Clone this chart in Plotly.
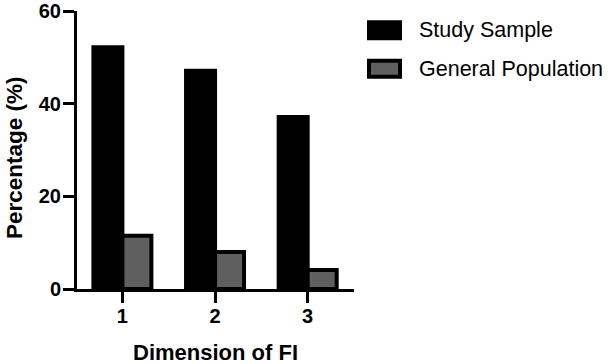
import plotly.graph_objects as go

categories = [1, 2, 3]
tick_labels = ["1", "2", "3"]
series_names = ["Study Sample", "General Population"]
study_sample = [52.2, 47.1, 37.1]
general_population = [11.5, 8.0, 4.1]
y_ticks = [0, 20, 40, 60]

W, H = 611, 364
L, R, T, B = 77, 257, 11, 75
pw = W - L - R
ph = H - T - B

def px(x):
    return (x - L) / pw

def py(y):
    return (H - B - y) / ph

FONT = "Liberation Sans, Arial, sans-serif"
LW = 4

fig = go.Figure()
fig.add_trace(go.Bar(x=categories, y=study_sample, name=series_names[0],
                     marker=dict(color="#000000", line=dict(color="#000000", width=LW))))
fig.add_trace(go.Bar(x=categories, y=general_population, name=series_names[1],
                     marker=dict(color="#5f5f5f", line=dict(color="#000000", width=LW))))

axis_common = dict(showgrid=False, zeroline=False, showline=True, linecolor="#000000",
                   linewidth=3, ticks="outside", ticklen=11, tickwidth=3, tickcolor="#000000",
                   automargin=False,
                   tickfont=dict(family=FONT, size=20, color="#000000", weight="bold"))

fig.update_layout(
    width=W, height=H, margin=dict(l=L, r=R, t=T, b=B, autoexpand=False),
    paper_bgcolor="white", plot_bgcolor="white",
    barmode="group", bargap=0.374, bargroupgap=0,
    showlegend=False,
    xaxis=dict(range=[0.51, 3.5], tickvals=categories, ticktext=tick_labels,
               ticklabelstandoff=-4, **axis_common),
    yaxis=dict(range=[0, 60], tickvals=y_ticks, ticklabelstandoff=-2, **axis_common),
)

# axis titles
fig.add_annotation(text="Dimension of FI", xref="paper", yref="paper",
                   x=px(215.5), y=py(352), xanchor="center", yanchor="middle", showarrow=False,
                   font=dict(family=FONT, size=22, color="#000000", weight="bold"))
fig.add_annotation(text="Percentage (%)", xref="paper", yref="paper",
                   x=px(14), y=py(158), xanchor="center", yanchor="middle", showarrow=False,
                   textangle=-90,
                   font=dict(family=FONT, size=22.5, color="#000000", weight="bold"))

# legend (manual, to match large swatches)
fills = ["#000000", "#5f5f5f"]
centers = [30.3, 68.7]
for name, fill, cy in zip(series_names, fills, centers):
    fig.add_shape(type="rect", xref="paper", yref="paper",
                  x0=px(369), x1=px(400), y0=py(cy - 8), y1=py(cy + 8),
                  fillcolor=fill, line=dict(color="#000000", width=LW))
    fig.add_annotation(text=name, xref="paper", yref="paper", x=px(417), y=py(cy),
                       xanchor="left", yanchor="middle", showarrow=False,
                       font=dict(family=FONT, size=21.5, color="#000000"))

fig.write_html("out.html")
